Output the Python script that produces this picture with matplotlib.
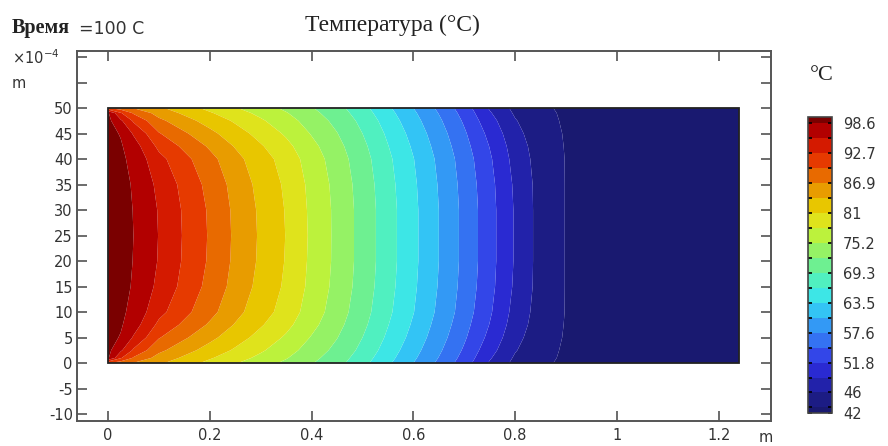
import numpy as np
import matplotlib
matplotlib.use("Agg")
import matplotlib.pyplot as plt
from matplotlib.colors import ListedColormap, BoundaryNorm
from matplotlib.patches import Rectangle

plt.rcParams["font.family"] = ["DejaVu Sans"]

# sample positions (x in m, y in 1e-4 m), lower half of the strip, mirrored later
x_pos = [0, 0.025, 0.05, 0.1, 0.15, 0.2, 0.25, 0.3, 0.35, 0.4, 0.45, 0.5,
         0.55, 0.6, 0.65, 0.7, 0.75, 0.8, 0.85, 0.9, 0.95, 1.0, 1.1, 1.24]
y_half = [0, 1, 2.5, 5, 7.5, 10, 15, 20, 25]

# temperature, one list per x position (y = 0 .. 25)
temp_cols = [
    [90.0, 99.0, 99.4, 99.5, 99.5, 99.5, 99.5, 99.5, 99.5],
    [88.2, 93.0, 96.2, 98.4, 98.9, 99.1, 99.3, 99.3, 99.3],
    [86.8, 89.5, 92.3, 95.4, 97.1, 97.9, 98.4, 98.55, 98.6],
    [84.5, 85.8, 87.6, 90.0, 92.0, 93.6, 95.0, 95.5, 95.6],
    [82.3, 83.5, 85.1, 87.3, 89.2, 90.6, 91.8, 92.3, 92.4],
    [80.2, 81.3, 82.8, 84.8, 86.5, 87.8, 88.9, 89.4, 89.5],
    [78.3, 79.3, 80.6, 82.3, 83.8, 84.9, 85.9, 86.3, 86.4],
    [76.5, 77.4, 78.5, 80.0, 81.3, 82.3, 83.1, 83.5, 83.6],
    [74.6, 75.4, 76.4, 77.7, 78.9, 79.8, 80.5, 80.8, 80.9],
    [72.5, 73.1, 73.9, 75.0, 76.0, 76.7, 77.3, 77.5, 77.6],
    [70.3, 70.8, 71.5, 72.4, 73.2, 73.8, 74.3, 74.5, 74.5],
    [67.3, 67.8, 68.5, 69.3, 70.0, 70.5, 71.0, 71.2, 71.2],
    [64.0, 64.5, 65.1, 65.9, 66.5, 67.0, 67.4, 67.6, 67.6],
    [60.6, 61.1, 61.7, 62.5, 63.1, 63.6, 64.0, 64.2, 64.2],
    [57.0, 57.5, 58.1, 58.9, 59.5, 60.0, 60.4, 60.6, 60.6],
    [53.2, 53.7, 54.3, 55.1, 55.7, 56.2, 56.6, 56.8, 56.8],
    [48.6, 49.2, 50.0, 51.0, 51.7, 52.2, 52.7, 52.9, 52.9],
    [45.2, 45.6, 46.2, 46.9, 47.5, 47.9, 48.4, 48.6, 48.6],
    [43.5, 43.7, 43.9, 44.2, 44.5, 44.7, 44.9, 44.9, 44.9],
    [42.7, 42.75, 42.8, 42.9, 42.95, 43.0, 43.0, 43.0, 43.0],
    [42.4, 42.4, 42.45, 42.5, 42.5, 42.5, 42.5, 42.5, 42.5],
    [42.2, 42.2, 42.25, 42.3, 42.3, 42.3, 42.3, 42.3, 42.3],
    [42.05, 42.05, 42.1, 42.1, 42.1, 42.1, 42.1, 42.1, 42.1],
    [42.0, 42.0, 42.0, 42.0, 42.0, 42.0, 42.0, 42.0, 42.0],
]

levels = [42, 43.1, 46, 48.9, 51.8, 54.7, 57.6, 60.6, 63.5, 66.4, 69.3, 72.3,
          75.2, 78.1, 81, 84, 86.9, 89.8, 92.7, 95.7, 98.6, 99.7]
band_colors = ["#191970", "#1c1c84", "#2222aa", "#2a2ad2", "#3346e8", "#3472f2",
               "#3399f5", "#33c4f5", "#3de6e6", "#50f0c0", "#6ef091", "#95f265",
               "#bcf23c", "#dfe31c", "#e8c600", "#e89c00", "#e86a00", "#e63a00",
               "#d41a00", "#b20000", "#7a0000"]
cbar_ticks = [42, 46, 51.8, 57.6, 63.5, 69.3, 75.2, 81, 86.9, 92.7, 98.6]
cbar_labels = ["42", "46", "51.8", "57.6", "63.5", "69.3", "75.2", "81", "86.9", "92.7", "98.6"]

x_ticks = [0, 0.2, 0.4, 0.6, 0.8, 1.0, 1.2]
x_labels = ["0", "0.2", "0.4", "0.6", "0.8", "1", "1.2"]
y_ticks = list(range(-10, 61, 5))
y_labels = [str(v) if v <= 50 else "" for v in y_ticks]

half = np.array(temp_cols).T
temp = np.vstack([half, half[-2::-1]])
y_pos = y_half + [50 - v for v in y_half[-2::-1]]
X, Y = np.meshgrid(x_pos, y_pos)

ink = "#333333"
fig = plt.figure(figsize=(8.88, 4.46), dpi=100)
ax = fig.add_axes([77/888, 1-421/446, (771-77)/888, (421-51)/446])

cmap = ListedColormap(band_colors)
norm = BoundaryNorm(levels, cmap.N)
cs = ax.contourf(X, Y, temp, levels=levels, cmap=cmap, norm=norm, antialiased=True)
ax.add_patch(Rectangle((0, 0), 1.24, 50, fill=False, edgecolor="#222222", lw=1.3, zorder=3))

ax.set_xlim(-0.0609, 1.3026)
ax.set_ylim(-11.37, 61.18)
ax.set_xticks(x_ticks)
ax.set_xticklabels(x_labels)
ax.set_yticks(y_ticks)
ax.set_yticklabels(y_labels)
ax.tick_params(direction="in", length=7, width=1.1, color="#444444", labelsize=10.5,
               labelcolor=ink, top=True, right=True)
ax.tick_params(axis="x", pad=5)
ax.tick_params(axis="y", pad=3)
for s in ax.spines.values():
    s.set_color("#555555")
    s.set_linewidth(1.4)

fig.text(766/888, 1-437/446, "m", fontsize=10.5, color=ink, ha="center", va="center")
fig.text(12/888, 1-58/446, r"$\times10^{-4}$", fontsize=10.5, color=ink, ha="left", va="center")
fig.text(12/888, 1-84/446, "m", fontsize=10.5, color=ink, ha="left", va="center")

fig.text(392/888, 1-25/446, "Температура (°C)", family="Liberation Serif",
         fontsize=17, color="#222222", ha="center", va="center")
fig.text(12/888, 1-28/446, "Время", family="Liberation Serif", weight="bold",
         fontsize=14.5, color="#222222", ha="left", va="center")
fig.text(79/888, 1-29/446, "=100 С", fontsize=12.5, color=ink, ha="left", va="center")

cax = fig.add_axes([808/888, 1-413/446, 24/888, 296/446])
cbar = fig.colorbar(cs, cax=cax, spacing="proportional")
cbar.outline.set_edgecolor("#444444")
cbar.outline.set_linewidth(1.2)
inner = levels[1:-1]
cax.set_yticks(inner, minor=True)
cax.set_yticks(cbar_ticks)
cax.set_yticklabels(cbar_labels)
cax.tick_params(which="both", direction="in", left=True, right=True, length=3,
                width=1.2, color="black", labelsize=10.5, labelcolor=ink, pad=8)
fig.text(822/888, 1-76/446, "°C", family="Liberation Serif", fontsize=16,
         color="#222222", ha="center", va="center")

fig.savefig("out.png", dpi=100)
